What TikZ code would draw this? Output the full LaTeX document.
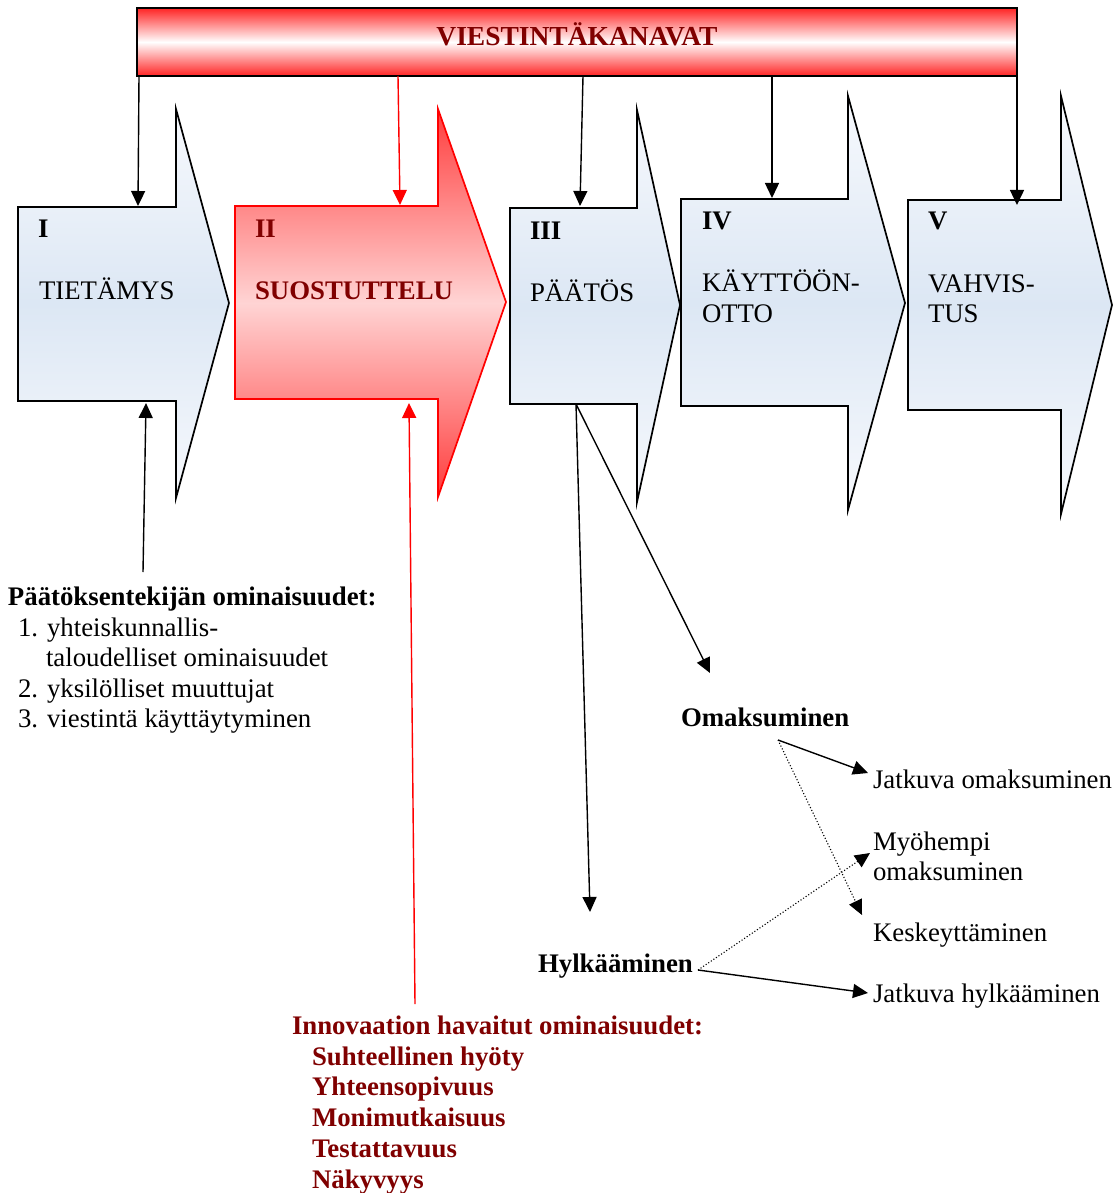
\documentclass[tikz,border=0pt]{standalone}
\usepackage{fontspec}
\setmainfont{Liberation Serif}
\usetikzlibrary{arrows.meta}
\definecolor{dred}{HTML}{800000}
\definecolor{bluemid}{HTML}{DCE7F4}
\definecolor{bluelight}{HTML}{F7F9FD}
\definecolor{redtop}{HTML}{FF3C3C}
\definecolor{redmid}{HTML}{FFD4D4}
\definecolor{bannerred}{HTML}{FF2424}
\begin{document}
\begin{tikzpicture}[x=1pt,y=-1pt,
  font=\fontsize{26.8}{30}\selectfont,
  txt/.style={anchor=base west,inner sep=0pt,outer sep=0pt},
  bfont/.style={font=\fontsize{26.8}{30}\selectfont\bfseries},
  bluearrow/.style={draw=black,line width=1.7pt,top color=bluelight,bottom color=bluelight,middle color=bluemid},
  redarrow/.style={draw=red,line width=1.7pt,top color=redtop,bottom color=redtop,middle color=redmid},
  conn/.style={line width=1.4pt,-{Triangle[length=15pt,width=14pt]}},
  dotconn/.style={line width=1.1pt,dotted,-{Triangle[length=15pt,width=14pt]}}
]
\useasboundingbox (0,0) rectangle (1118,1193);
\fill[white] (0,0) rectangle (1118,1193);

% banner
\node[draw=black,line width=2pt,minimum width=880pt,minimum height=68pt,inner sep=0pt,
  top color=bannerred,bottom color=bannerred,middle color=white] (banner) at (577,42) {};
\node[inner sep=0pt,text=dred,font=\fontsize{27.5}{30}\selectfont\bfseries] (bannertext) at (577,34) {VIESTINTÄKANAVAT};

% stage arrows
\path[bluearrow] (18,207) -- (176,207) -- (176,109) -- (229,303) -- (176,498) -- (176,401) -- (18,401) -- cycle;
\path[redarrow] (235,206) -- (438,206) -- (438,109) -- (506,302) -- (438,497) -- (438,399) -- (235,399) -- cycle;
\path[bluearrow] (510,208) -- (637,208) -- (637,110) -- (680,305) -- (637,502) -- (637,404) -- (510,404) -- cycle;
\path[bluearrow] (681,199) -- (848,199) -- (848,96) -- (905,303) -- (848,510) -- (848,406) -- (681,406) -- cycle;
\path[bluearrow] (908,200) -- (1061,200) -- (1061,96) -- (1112,305) -- (1061,514) -- (1061,410) -- (908,410) -- cycle;

% stage texts
\node[txt,bfont] (n1) at (38,237) {I};
\node[txt] (t1) at (39,299) {TIETÄMYS};
\node[txt,text=dred,bfont] (n2) at (255,237) {II};
\node[txt,text=dred,bfont] (t2) at (255,299) {SUOSTUTTELU};
\node[txt,bfont] (n3) at (530,239) {III};
\node[txt] (t3) at (530,301) {PÄÄTÖS};
\node[txt,bfont] (n4) at (702,229) {IV};
\node[txt] (t4a) at (702,291) {KÄYTTÖÖN-};
\node[txt] (t4b) at (702,322) {OTTO};
\node[txt,bfont] (n5) at (928,229) {V};
\node[txt] (t5a) at (928,292) {VAHVIS-};
\node[txt] (t5b) at (928,322) {TUS};

% connector coordinates
\coordinate (b1) at (139,76);  \coordinate (a1t) at (138,206);
\coordinate (b2) at (398,76);  \coordinate (a2t) at (400,205);
\coordinate (b3) at (583,76);  \coordinate (a3t) at (580,206);
\coordinate (b4) at (772,76);  \coordinate (a4t) at (772,198);
\coordinate (b5) at (1017,76); \coordinate (a5t) at (1017,205);
\coordinate (p1) at (143,572); \coordinate (a1b) at (146,403);
\coordinate (p2) at (415,1004); \coordinate (a2b) at (409,403);
\coordinate (a3b) at (576,404);
\coordinate (hylend) at (590,912);
\coordinate (omaend) at (710,673);
\coordinate (o1) at (778,740);
\coordinate (h1) at (698,970);
\coordinate (jo) at (868,773);
\coordinate (ke) at (862,915);
\coordinate (my) at (870,853);
\coordinate (jh) at (868,993);

\draw[conn] (b1) -- (a1t);
\draw[conn,red] (b2) -- (a2t);
\draw[conn] (b3) -- (a3t);
\draw[conn] (b4) -- (a4t);
\draw[conn] (b5) -- (a5t);
\draw[conn] (p1) -- (a1b);
\draw[conn,red] (p2) -- (a2b);
\draw[conn] (a3b) -- (hylend);
\draw[conn] (a3b) -- (omaend);
\draw[conn] (o1) -- (jo);
\draw[dotconn] (o1) -- (ke);
\draw[dotconn] (h1) -- (my);
\draw[conn] (h1) -- (jh);

% outcome texts
\node[txt,bfont] (oma) at (681,726) {Omaksuminen};
\node[txt,bfont] (hyl) at (538,972) {Hylkääminen};
\node[txt] (jot) at (873,788) {Jatkuva omaksuminen};
\node[txt] (myt1) at (873,850) {Myöhempi};
\node[txt] (myt2) at (873,880) {omaksuminen};
\node[txt] (ket) at (873,941) {Keskeyttäminen};
\node[txt] (jht) at (873,1002) {Jatkuva hylkääminen};

% decision maker characteristics
\node[txt,bfont] (pk) at (8,605) {Päätöksentekijän ominaisuudet:};
\node[txt] (pk1) at (18,636) {1. yhteiskunnallis-};
\node[txt] (pk1b) at (46,666) {taloudelliset ominaisuudet};
\node[txt] (pk2) at (18,697) {2. yksilölliset muuttujat};
\node[txt] (pk3) at (18,727) {3. viestintä käyttäytyminen};

% innovation characteristics
\begin{scope}[every node/.style={txt,text=dred,bfont}]
\node (ih) at (292,1034) {Innovaation havaitut ominaisuudet:};
\node (i1) at (312,1065) {Suhteellinen hyöty};
\node (i2) at (312,1095) {Yhteensopivuus};
\node (i3) at (312,1126) {Monimutkaisuus};
\node (i4) at (312,1157) {Testattavuus};
\node (i5) at (312,1188) {Näkyvyys};
\end{scope}
\end{tikzpicture}
\end{document}
